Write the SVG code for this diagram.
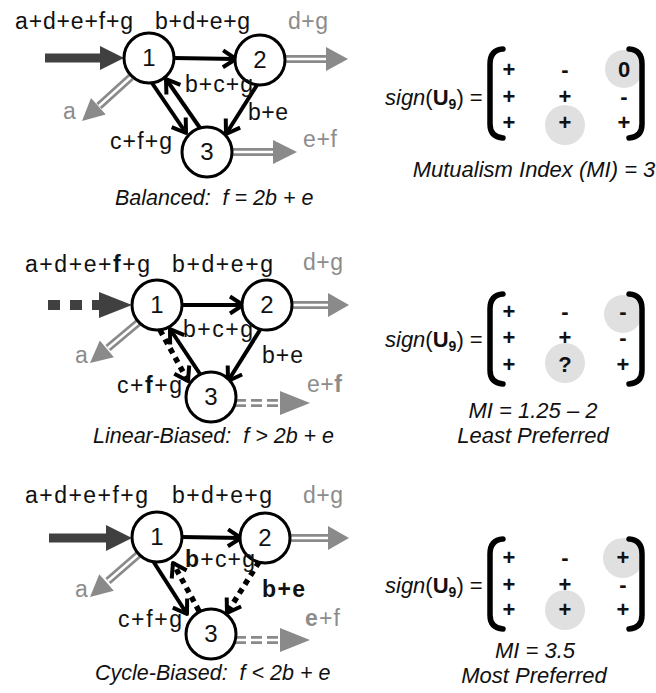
<svg xmlns="http://www.w3.org/2000/svg" width="656" height="693" viewBox="0 0 656 693">
<defs>
  <style>
    text { font-family: "Liberation Sans", Arial, sans-serif; fill: #111; }
    .lbl { font-size: 23px; }
    .g { fill: #8c8c8c; }
    .b { font-weight: bold; }
    .cap { font-size: 21.5px; font-style: italic; white-space: pre; }
    .mi { font-size: 22px; font-style: italic; text-anchor: middle; white-space: pre; }
    .node circle { fill: #fff; stroke: #000; stroke-width: 3; }
    .node text { font-size: 24px; text-anchor: middle; }
    .edge { stroke: #000; stroke-width: 4; fill: none; marker-end: url(#vee); }
    .dot { stroke-width: 5.5; stroke-dasharray: 5.5 5; }
    .inflow { stroke: #404040; stroke-width: 9; fill: none; }
    .inhead { fill: #404040; }
    .outer { stroke: #8a8a8a; stroke-width: 8; fill: none; }
    .inner { stroke: #fff; stroke-width: 2.5; fill: none; }
    .dashed { stroke-dasharray: 11 5; }
    .outhead { fill: #8a8a8a; }
    .hl { fill: #e0e0e0; }
    .br { stroke: #000; stroke-width: 5.5; fill: none; stroke-linecap: round; }
    .mx .e { font-size: 22px; font-weight: bold; text-anchor: middle; }
    .mx .sg { font-size: 22px; }
  </style>
  <marker id="vee" markerUnits="userSpaceOnUse" viewBox="-16 -12 20 24" markerWidth="20" markerHeight="24" refX="0" refY="0" orient="auto">
    <path d="M-13,-8.5 L0,0 L-13,8.5" fill="none" stroke="#000" stroke-width="4" stroke-linejoin="round"/>
  </marker>
</defs>

<!-- ===================== Balanced ===================== -->
<g id="balanced">
  <g id="balanced-connectors">
    <line class="inflow" x1="45" y1="58" x2="102" y2="58"/>
    <polygon class="inhead" points="100,46 124,58 100,70"/>
    <line class="edge" x1="174" y1="58" x2="236" y2="59"/>
    <line class="edge" x1="257" y1="85" x2="226" y2="134"/>
    <line class="edge" x1="152" y1="83" x2="186" y2="133"/>
    <line class="edge" x1="200" y1="128" x2="166" y2="79"/>
    <line class="outer" x1="285" y1="59" x2="328" y2="59"/>
    <line class="inner" x1="285" y1="59" x2="328" y2="59"/>
    <polygon class="outhead" points="326,47 348,59 326,71"/>
    <line class="outer" x1="232" y1="152" x2="275" y2="152"/>
    <line class="inner" x1="232" y1="152" x2="275" y2="152"/>
    <polygon class="outhead" points="273,140 297,152 273,164"/>
    <line class="outer" x1="131" y1="77" x2="99" y2="106"/>
    <line class="inner" x1="131" y1="77" x2="99" y2="106"/>
    <polygon class="outhead" points="82,121 105.7,114.5 91,98.1"/>
  </g>
  <g id="balanced-n1" class="node"><circle cx="149" cy="58" r="25"/><text x="149" y="66">1</text></g>
  <g id="balanced-n2" class="node"><circle cx="260" cy="60" r="25"/><text x="260" y="68">2</text></g>
  <g id="balanced-n3" class="node"><circle cx="207" cy="152" r="25"/><text x="207" y="160">3</text></g>
  <text class="lbl" x="15" y="29" textLength="118">a+d+e+f+g</text>
  <text class="lbl" x="155" y="29" textLength="95">b+d+e+g</text>
  <text class="lbl g" x="288" y="29" textLength="40">d+g</text>
  <text class="lbl" x="185" y="92" textLength="68">b+c+g</text>
  <text class="lbl" x="248" y="120" textLength="40">b+e</text>
  <text class="lbl g" x="63" y="119">a</text>
  <text class="lbl" x="110" y="149" textLength="62">c+f+g</text>
  <text class="lbl g" x="303" y="147" textLength="34">e+f</text>
  <text class="cap" x="115" y="205">Balanced:  f = 2b + e</text>

  <g id="balanced-matrix" class="mx">
    <circle class="hl" cx="624" cy="69" r="19"/>
    <circle class="hl" cx="565" cy="125" r="20"/>
    <text class="sg" x="385" y="105"><tspan font-style="italic">sign</tspan>(<tspan font-weight="bold">U</tspan><tspan font-weight="bold" font-size="14" dy="4">9</tspan><tspan dy="-4">) =</tspan></text>
    <path class="br" d="M503,49 Q490,50 490,64 L490,124 Q490,137 503,138"/>
    <path class="br" d="M629,49 Q642,50 642,64 L642,124 Q642,137 629,138"/>
    <text class="e" x="509" y="77">+</text><text class="e" x="565" y="77">-</text><text class="e" x="624" y="77">0</text>
    <text class="e" x="509" y="104">+</text><text class="e" x="565" y="104">+</text><text class="e" x="624" y="104">-</text>
    <text class="e" x="509" y="130">+</text><text class="e" x="565" y="130">+</text><text class="e" x="624" y="130">+</text>
  </g>
  <text class="mi" x="534" y="177">Mutualism Index (MI) = 3</text>
</g>

<!-- ===================== Linear-Biased ===================== -->
<g id="linear">
  <g id="linear-connectors">
    <line class="inflow" x1="48" y1="305" x2="100" y2="305" style="stroke-dasharray:12 10;stroke-width:10"/>
    <polygon class="inhead" points="99,292 132,305 99,318"/>
    <line class="edge" x1="182" y1="305" x2="243" y2="305"/>
    <line class="edge" x1="260" y1="330" x2="228" y2="381"/>
    <line class="edge" x1="200" y1="374" x2="170" y2="329"/>
    <line class="edge dot" x1="160" y1="330" x2="188" y2="381"/>
    <line class="outer" x1="292" y1="305" x2="330" y2="305"/>
    <line class="inner" x1="292" y1="305" x2="330" y2="305"/>
    <polygon class="outhead" points="328,293 349,305 328,317"/>
    <line class="outer dashed" x1="235" y1="403" x2="281" y2="403"/>
    <line class="inner" x1="235" y1="403" x2="281" y2="403"/>
    <polygon class="outhead" points="280,391 310,403 280,415"/>
    <line class="outer" x1="139" y1="322" x2="108" y2="348"/>
    <line class="inner" x1="139" y1="322" x2="108" y2="348"/>
    <polygon class="outhead" points="90,363 113.9,357.3 99.8,340.4"/>
  </g>
  <g id="linear-n1" class="node"><circle cx="157" cy="305" r="25"/><text x="157" y="313">1</text></g>
  <g id="linear-n2" class="node"><circle cx="267" cy="305" r="25"/><text x="267" y="313">2</text></g>
  <g id="linear-n3" class="node"><circle cx="211" cy="397" r="25"/><text x="211" y="405">3</text></g>
  <text class="lbl" x="25" y="272" textLength="125">a+d+e+<tspan class="b">f</tspan>+g</text>
  <text class="lbl" x="172" y="272" textLength="101">b+d+e+g</text>
  <text class="lbl g" x="303" y="270" textLength="40">d+g</text>
  <text class="lbl" x="183" y="337" textLength="70">b+c+g</text>
  <text class="lbl" x="262" y="363" textLength="41">b+e</text>
  <text class="lbl g" x="75" y="363">a</text>
  <text class="lbl" x="117" y="393" textLength="65">c+<tspan class="b">f</tspan>+g</text>
  <text class="lbl g" x="307" y="392" textLength="35">e+<tspan class="b">f</tspan></text>
  <text class="cap" x="93" y="443">Linear-Biased:  f &gt; 2b + e</text>

  <g id="linear-matrix" class="mx">
    <circle class="hl" cx="623" cy="314" r="19"/>
    <circle class="hl" cx="565" cy="363" r="20"/>
    <text class="sg" x="385" y="347"><tspan font-style="italic">sign</tspan>(<tspan font-weight="bold">U</tspan><tspan font-weight="bold" font-size="14" dy="4">9</tspan><tspan dy="-4">) =</tspan></text>
    <path class="br" d="M503,294 Q490,295 490,309 L490,370 Q490,383 503,384"/>
    <path class="br" d="M629,294 Q642,295 642,309 L642,370 Q642,383 629,384"/>
    <text class="e" x="509" y="319">+</text><text class="e" x="565" y="319">-</text><text class="e" x="623" y="319">-</text>
    <text class="e" x="509" y="345">+</text><text class="e" x="565" y="345">+</text><text class="e" x="623" y="345">-</text>
    <text class="e" x="509" y="372">+</text><text class="e" x="565" y="372">?</text><text class="e" x="623" y="372">+</text>
  </g>
  <text class="mi" x="533" y="418">MI = 1.25 – 2</text>
  <text class="mi" x="533" y="443">Least Preferred</text>
</g>

<!-- ===================== Cycle-Biased ===================== -->
<g id="cycle">
  <g id="cycle-connectors">
    <line class="inflow" x1="49" y1="538" x2="108" y2="538"/>
    <polygon class="inhead" points="106,525 132,538 106,551"/>
    <line class="edge" x1="182" y1="537" x2="241" y2="538"/>
    <line class="edge" x1="153" y1="561" x2="187" y2="614"/>
    <line class="edge dot" x1="199" y1="611" x2="173" y2="563"/>
    <line class="edge dot" x1="259" y1="562" x2="227" y2="613"/>
    <line class="outer" x1="290" y1="538" x2="330" y2="538"/>
    <line class="inner" x1="290" y1="538" x2="330" y2="538"/>
    <polygon class="outhead" points="328,526 349,538 328,550"/>
    <line class="outer dashed" x1="235" y1="640" x2="281" y2="640"/>
    <line class="inner" x1="235" y1="640" x2="281" y2="640"/>
    <polygon class="outhead" points="280,628 310,640 280,652"/>
    <line class="outer" x1="139" y1="554" x2="108" y2="581"/>
    <line class="inner" x1="139" y1="554" x2="108" y2="581"/>
    <polygon class="outhead" points="90,597 113.8,590.8 99.3,574.2"/>
  </g>
  <g id="cycle-n1" class="node"><circle cx="157" cy="537" r="25"/><text x="157" y="545">1</text></g>
  <g id="cycle-n2" class="node"><circle cx="265" cy="538" r="25"/><text x="265" y="546">2</text></g>
  <g id="cycle-n3" class="node"><circle cx="211" cy="634" r="25"/><text x="211" y="642">3</text></g>
  <text class="lbl" x="25" y="503" textLength="123">a+d+e+f+g</text>
  <text class="lbl" x="172" y="503" textLength="100">b+d+e+g</text>
  <text class="lbl g" x="303" y="503" textLength="40">d+g</text>
  <text class="lbl" x="185" y="567" textLength="70"><tspan class="b">b</tspan>+c+g</text>
  <text class="lbl b" x="262" y="597" textLength="43">b+e</text>
  <text class="lbl g" x="75" y="597">a</text>
  <text class="lbl" x="118" y="627" textLength="64">c+f+g</text>
  <text class="lbl g" x="305" y="626" textLength="35"><tspan class="b">e</tspan>+f</text>
  <text class="cap" x="95" y="680">Cycle-Biased:  f &lt; 2b + e</text>

  <g id="cycle-matrix" class="mx">
    <circle class="hl" cx="623" cy="558" r="20"/>
    <circle class="hl" cx="565" cy="610" r="20"/>
    <text class="sg" x="385" y="593"><tspan font-style="italic">sign</tspan>(<tspan font-weight="bold">U</tspan><tspan font-weight="bold" font-size="14" dy="4">9</tspan><tspan dy="-4">) =</tspan></text>
    <path class="br" d="M503,539 Q490,540 490,554 L490,615 Q490,628 503,629"/>
    <path class="br" d="M629,539 Q642,540 642,554 L642,615 Q642,628 629,629"/>
    <text class="e" x="509" y="565">+</text><text class="e" x="565" y="565">-</text><text class="e" x="623" y="565">+</text>
    <text class="e" x="509" y="592">+</text><text class="e" x="565" y="592">+</text><text class="e" x="623" y="592">-</text>
    <text class="e" x="509" y="617">+</text><text class="e" x="565" y="617">+</text><text class="e" x="623" y="617">+</text>
  </g>
  <text class="mi" x="535" y="658">MI = 3.5</text>
  <text class="mi" x="534" y="683">Most Preferred</text>
</g>
</svg>
